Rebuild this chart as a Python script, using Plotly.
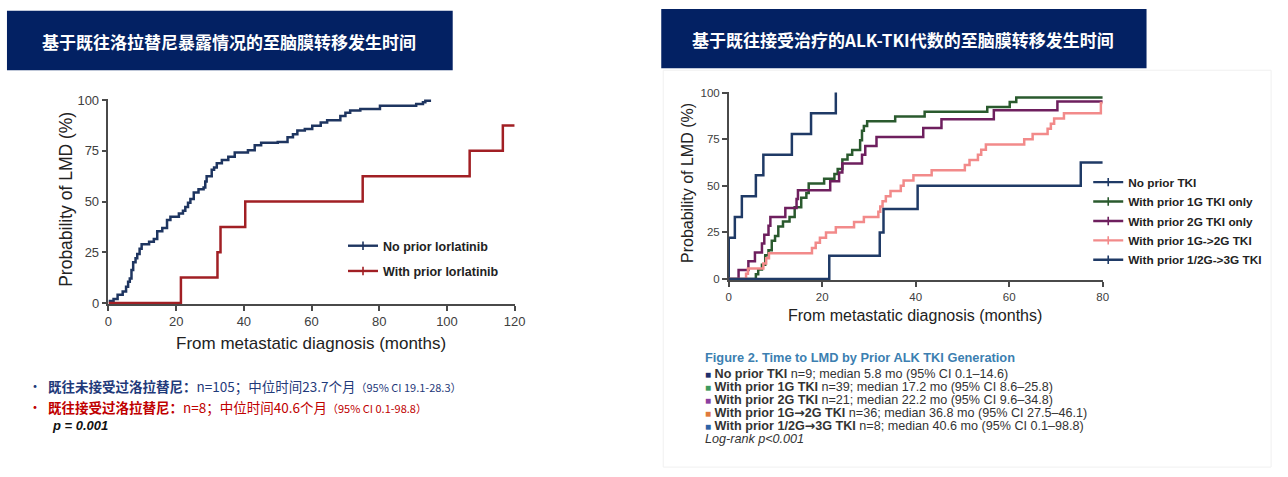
import plotly.graph_objects as go

W, H = 1288, 477

# ---------------- data ----------------
# Left panel: prior lorlatinib exposure
no_lor_x = [0, 1.5, 2.7, 4.2, 5.2, 5.8, 6.3, 6.8, 7.3, 8.0, 8.5, 9.2, 9.8, 12.0, 13.4, 14.4,
            15.9, 17.3, 18.3, 20.8, 22.0, 22.7, 23.5, 24.2, 25.2, 26.6, 28.1, 28.6, 29.0,
            30.5, 31.2, 32.0, 33.5, 35.4, 37.3, 41.2, 43.2, 45.1, 50.0, 52.9, 54.5, 55.8,
            58.0, 60.2, 62.7, 64.6, 68.5, 70.0, 71.4, 74.4, 80.2, 90.9, 92.9, 93.6, 95.3]
no_lor_y = [1.0, 1.9, 4.1, 5.7, 8.0, 10.5, 12.1, 16.2, 20.1, 22.0, 24.1, 26.7, 28.9, 30.2,
            31.5, 35.3, 36.9, 40.9, 42.5, 44.1, 45.5, 47.3, 49.4, 51.3, 54.5, 56.1, 56.9,
            59.9, 62.5, 65.7, 66.8, 68.9, 70.5, 72.1, 74.2, 75.3, 77.7, 79.0, 79.3, 81.7,
            83.2, 85.0, 85.7, 87.3, 88.9, 90.0, 92.1, 93.7, 94.8, 95.6, 97.2, 98.1, 98.9,
            99.7, 99.7]
with_lor_x = [0, 21.4, 32.2, 33.1, 40.4, 75.1, 106.7, 116.5, 120]
with_lor_y = [0, 12.5, 25, 37.5, 50, 62.5, 75, 87.5, 87.5]

# Right panel: prior ALK-TKI generation
no_tki_x = [0, 0, 1.3, 2.8, 5.8, 7.4, 13.5, 17.6, 22.9]
no_tki_y = [0, 22.2, 33.3, 44.4, 55.6, 66.7, 77.8, 88.9, 100]

g1_x = [0, 5.8, 6.3, 7.1, 7.8, 8.5, 9.2, 9.9, 10.6, 11.6, 13.0, 14.1, 15.5, 16.6, 17.1,
        20.4, 22.6, 23.3, 24.3, 25.4, 26.4, 28.1, 28.5, 28.9, 29.6, 35.6, 41.9, 55.3,
        60.1, 61.5, 80]
g1_y = [0, 2.6, 5.1, 7.7, 12.8, 15.4, 20.5, 23.1, 28.2, 30.8, 33.3, 38.5, 43.6, 46.2,
        51.3, 53.8, 56.4, 59.0, 64.1, 66.7, 69.2, 74.4, 79.5, 82.1, 84.6, 87.2, 89.7,
        92.3, 94.9, 97.4, 97.4]

g2_x = [0, 2.1, 4.2, 5.6, 7.1, 7.6, 8.5, 8.9, 12.1, 14.5, 14.8, 21.7, 23.6, 24.3, 28.5,
        29.2, 31.6, 41.6, 45.5, 56.7, 70.3, 80]
g2_y = [0, 4.8, 9.5, 14.3, 19.0, 23.8, 28.6, 33.3, 38.1, 42.9, 47.6, 52.4, 57.1, 61.9,
        66.7, 71.4, 76.2, 81.0, 85.7, 90.5, 95.2, 95.2]

g12_x = [0, 3.7, 4.1, 7.4, 8.0, 8.6, 17.8, 18.6, 19.5, 20.8, 22.9, 26.8, 28.9, 32.0, 32.4,
         32.9, 33.6, 34.6, 36.8, 37.4, 39.5, 43.4, 50.5, 51.5, 53.3, 54.0, 55.0, 63.2,
         65.0, 68.2, 68.9, 69.6, 71.7, 79.6, 80]
g12_y = [0, 2.8, 5.6, 8.3, 11.1, 13.9, 16.7, 19.4, 22.2, 25.0, 27.8, 30.6, 33.3, 36.1,
         38.9, 41.7, 44.4, 47.2, 50.0, 52.8, 55.6, 58.3, 61.1, 63.9, 66.7, 69.4, 72.2,
         75.0, 77.8, 80.6, 83.3, 86.1, 88.9, 94.4, 94.4]

g3_x = [0, 21.5, 32.3, 33.1, 40.4, 75.3, 80]
g3_y = [0, 12.5, 25, 37.5, 50, 62.5, 62.5]

x_ticks_left = [0, 20, 40, 60, 80, 100, 120]
x_ticks_right = [0, 20, 40, 60, 80]
y_ticks = [0, 25, 50, 75, 100]

left_names = ["No prior lorlatinib", "With prior lorlatinib"]
right_names = ["No prior TKI", "With prior 1G TKI only", "With prior 2G TKI only",
               "With prior 1G->2G TKI", "With prior 1/2G->3G TKI"]

# ---------------- helpers ----------------
def fx(p):
    return p / W


def fy(p):
    return 1 - p / H


NAVY = "#1e3560"
RED = "#a11f24"
NAVY_R = "#1f3a66"
GREEN = "#2a5a2e"
PURPLE = "#6e1f5e"
SALMON = "#f28a8a"
LAT = "Liberation Sans, Arial, sans-serif"
CJK = "Noto Sans CJK SC, sans-serif"

fig = go.Figure()


def km(x, y, color, xa, ya):
    fig.add_trace(go.Scatter(x=x, y=y, mode="lines", line=dict(color=color, width=2.5, shape="hv"),
                             xaxis=xa, yaxis=ya, showlegend=False, hoverinfo="skip"))


def leg(name, color, xa, ya, legend, group):
    fig.add_trace(go.Scatter(x=[None], y=[None], mode="lines+markers", name=name,
                             line=dict(color=color, width=2.4),
                             marker=dict(symbol="line-ns-open", size=6,
                                         line=dict(color=color, width=1.6)),
                             xaxis=xa, yaxis=ya, legend=legend, legendgroup=group))


km(no_lor_x, no_lor_y, NAVY, "x", "y")
km(with_lor_x, with_lor_y, RED, "x", "y")
leg(left_names[0], NAVY, "x", "y", "legend", "a")
leg(left_names[1], RED, "x", "y", "legend", "b")

right_series = [(no_tki_x, no_tki_y, NAVY_R), (g1_x, g1_y, GREEN), (g2_x, g2_y, PURPLE),
                (g12_x, g12_y, SALMON), (g3_x, g3_y, NAVY_R)]
for (sx, sy, c) in right_series:
    km(sx, sy, c, "x2", "y2")
for i, (sx, sy, c) in enumerate(right_series):
    leg(right_names[i], c, "x2", "y2", "legend2", "r%d" % i)

axis_common = dict(showline=True, linecolor="#4a4a4a", linewidth=1.5, ticks="outside",
                   ticklen=5, tickwidth=1.5, tickcolor="#4a4a4a", showgrid=False,
                   zeroline=False, layer="below traces", fixedrange=True)

# left axes: x 0->105.7px, 120->516.7px ; y 0->305.3px, 100->96.7px
ly_unit = (305.3 - 96.7) / 100
ry_unit = (280.7 - 89.0) / 100
pad = 0.5
fig.update_layout(
    xaxis=dict(domain=[fx(105.7), fx(516.7)], range=[0, 120], tickvals=x_ticks_left,
               tickfont=dict(family=LAT, size=13, color="#404040"), anchor="y", **axis_common),
    yaxis=dict(domain=[fy(305.3 + pad * ly_unit), fy(96.7 - pad * ly_unit)],
               range=[-pad, 100 + pad], tickvals=y_ticks,
               tickfont=dict(family=LAT, size=13, color="#404040"), anchor="x", **axis_common),
    xaxis2=dict(domain=[fx(733.3), fx(1111.7)], range=[0, 80], tickvals=x_ticks_right,
                tickfont=dict(family=LAT, size=11.5, color="#404040"), anchor="y2", **axis_common),
    yaxis2=dict(domain=[fy(280.7 + pad * ry_unit), fy(89.0 - pad * ry_unit)],
                range=[-pad, 100 + pad], tickvals=y_ticks,
                tickfont=dict(family=LAT, size=11.5, color="#404040"), anchor="x2", **axis_common),
    legend=dict(x=fx(343), y=fy(231.4), xanchor="left", yanchor="top", traceorder="grouped",
                tracegroupgap=6, bgcolor="rgba(0,0,0,0)",
                font=dict(family=LAT, size=12.5, color="#222222", weight="bold")),
    legend2=dict(x=fx(1097), y=fy(166.2), xanchor="left", yanchor="top", traceorder="grouped",
                 tracegroupgap=0.4, bgcolor="rgba(0,0,0,0)",
                 font=dict(family=LAT, size=11.8, color="#222222", weight="bold")),
    width=W, height=H, margin=dict(l=0, r=0, t=0, b=0),
    paper_bgcolor="white", plot_bgcolor="white",
)

shapes = [
    dict(type="rect", xref="paper", yref="paper", x0=fx(3), x1=fx(454), y0=fy(66), y1=fy(5),
         fillcolor="#032163", line=dict(width=0), layer="below"),
    dict(type="rect", xref="paper", yref="paper", x0=fx(665), x1=fx(1156), y0=fy(64), y1=fy(3),
         fillcolor="#032163", line=dict(width=0), layer="below"),
    dict(type="rect", xref="paper", yref="paper", x0=fx(667), x1=fx(1282), y0=fy(474), y1=fy(66),
         fillcolor="rgba(0,0,0,0)", line=dict(width=1, color="#f0f0f0"), layer="below"),
]
fig.update_layout(shapes=shapes)

ann = []


def A(text, x, y, size, color, family=LAT, xanchor="left", angle=0):
    ann.append(dict(text=text, x=fx(x), y=fy(y), xref="paper", yref="paper", showarrow=False,
                    xanchor=xanchor, yanchor="middle", textangle=angle,
                    font=dict(family=family, size=size, color=color)))


# banners
A("<b>基于既往洛拉替尼暴露情况的至脑膜转移发生时间</b>", 228, 36, 17, "white", CJK, "center")
A("<b>基于既往接受治疗的ALK-TKI代数的至脑膜转移发生时间</b>", 910, 34, 17, "white", CJK, "center")

# axis titles
A("Probability of LMD (%)", 62, 199, 17.5, "#222222", LAT, "center", -90)
A("From metastatic diagnosis (months)", 311, 347, 17, "#222222", LAT, "center")
A("Probability of LMD (%)", 691, 182, 16, "#222222", LAT, "center", -90)
A("From metastatic diagnosis (months)", 922, 318, 16, "#222222", LAT, "center")

# bottom-left summary
BL = "#1f3a7a"
RD = "#c00000"
A("•", 31, 390, 14, BL, CJK, "center")
A("<b>既往未接受过洛拉替尼：</b>n=105；中位时间23.7个月<span style='font-size:11px'>（95% CI 19.1-28.3）</span>",
  43, 391, 13.5, BL, CJK)
A("•", 31, 411, 14, RD, CJK, "center")
A("<b>既往接受过洛拉替尼：</b>n=8；中位时间40.6个月<span style='font-size:11px'>（95% CI 0.1-98.8）</span>",
  43, 412, 13.5, RD, CJK)
A("<b><i>p = 0.001</i></b>", 47, 431, 13, "#111111", LAT)

# bottom-right figure legend text
A("<b>Figure 2. Time to LMD by Prior ALK TKI Generation</b>", 707, 361.7, 12.8, "#3c7fb1")
sq_cols = ["#1f2f6b", "#3d9a5e", "#8b3fa0", "#e07a3c", "#2d62a6"]
ARW = "<span style='font-family:DejaVu Sans'>→</span>"
labels = ["No prior TKI", "With prior 1G TKI", "With prior 2G TKI",
          "With prior 1G" + ARW + "2G TKI", "With prior 1/2G" + ARW + "3G TKI"]
stats = ["n=9; median 5.8 mo (95% CI 0.1–14.6)", "n=39; median 17.2 mo (95% CI 8.6–25.8)",
         "n=21; median 22.2 mo (95% CI 9.6–34.8)", "n=36; median 36.8 mo (95% CI 27.5–46.1)",
         "n=8; median 40.6 mo (95% CI 0.1–98.8)"]
for i in range(5):
    A("<span style='color:%s;font-size:10px'>■</span> <b>%s</b> %s" % (sq_cols[i], labels[i], stats[i]),
      707, 378.3 + 13.35 * i, 12.6, "#333333")
A("<i>Log-rank p<0.001</i>", 707, 445, 12.6, "#333333")

fig.update_layout(annotations=ann)
fig.write_html("out.html")
